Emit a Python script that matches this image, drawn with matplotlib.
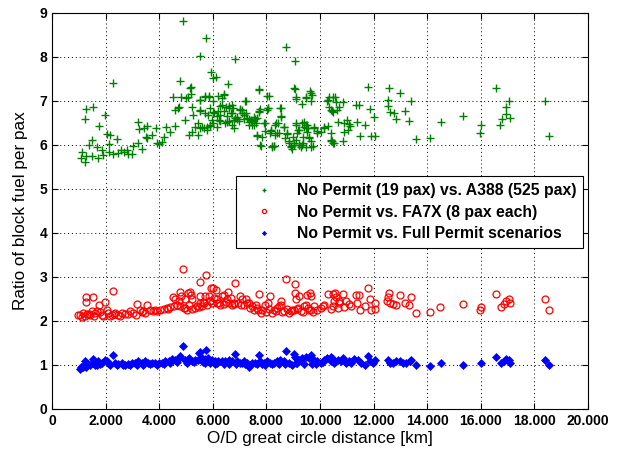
import matplotlib
matplotlib.use("Agg")
import matplotlib.pyplot as plt
from matplotlib.ticker import FuncFormatter

# ---------------- data ----------------
green_x = [4900, 5762, 5525, 6812, 8725, 9062, 2275, 4775, 5937, 6012, 6137, 6575, 5200, 7725,
           9062, 9637, 9687, 8112, 9087, 9475, 9312, 7225, 10300, 10562, 10350, 10637,
           1250, 1537, 1237, 1987, 1737, 1500, 1375, 1662, 1137, 1075, 1262, 1225, 1487, 1700,
           1887, 1875, 2112, 2050, 2175, 2412, 2112, 2287, 2462, 2575, 2687, 2787, 2850, 2975,
           3037, 3200, 3262, 3437, 3562, 3512, 3350, 3225, 3562, 3725, 3887, 3912, 3975, 4100,
           4162, 4262, 4412, 4512, 4600, 4687, 4600, 4737, 4812, 4975, 5012, 5087, 5162, 5200,
           5225, 5262, 5100, 5225, 5350, 5437, 5537, 5537, 5725, 5850, 5887, 5537, 5662, 5787,
           5912, 5975, 6037, 6162, 6225, 6287, 6350, 6412, 6475, 6537, 6600, 6687, 6762, 6787,
           6887, 7012, 7100, 7162, 7225, 7287, 7350, 7412, 7475, 7537, 7600, 7662, 7725, 7787,
           7850, 7937, 8037, 8062, 8137, 8187, 8225, 8287, 8350, 8412, 8475, 8537, 8562, 8662,
           8787, 8850, 8912, 8975, 9037, 9100, 9137, 9187, 9225, 9287, 9350, 9387, 9412, 9475,
           9512, 9562, 9600, 9662, 9725, 9787, 9887, 10037, 10162, 10287, 10412, 10512,
           5525, 5712, 5862, 6025, 6212, 6400, 6275, 6337, 6587, 6712, 5525, 5712, 5837, 6025,
           6187, 6400, 6525, 6712, 6837, 7025, 7087, 7212, 7150, 7337, 7462, 7587, 7650, 7525,
           7337, 5462, 5587, 5775, 5900, 6025, 6150, 6275, 6462, 6587, 6712, 6775, 6900, 6962,
           7712, 7775, 8025, 8062, 7712, 8525, 8562, 8337, 8437, 8650, 7900, 7962, 8187, 8337,
           7650, 7775, 8212, 8275, 8837, 8900, 8962, 9025, 9087, 9212, 9312, 9362, 9462, 9525,
           9587, 9650, 9462, 9337, 9212, 9087, 8775, 8712, 9650, 9650, 9462, 9087, 9025, 9775,
           9900, 10150, 10275, 10337, 10462, 10462,
           10500, 10600, 10412, 10475, 10700, 10850, 11325, 11450, 11850, 12012, 11787, 12575,
           12975, 13412, 12537, 12537, 12600, 12750, 13162, 12825, 13325, 10662, 10912, 11000,
           11075, 11125, 11037, 10912, 11375, 11662, 10412, 10412, 10475, 10875, 11500, 11912,
           12037, 13575, 14100, 14500, 15350, 16000, 15975, 16562, 17037, 16950, 16937, 16787,
           17075, 16725, 18387, 18562]
green_y = [8.81, 8.43, 8.02, 7.95, 8.23, 7.90, 7.40, 7.45, 7.65, 7.53, 7.54, 7.39, 7.32, 7.24,
           7.27, 7.22, 7.14, 7.11, 7.04, 7.06, 6.93, 7.01, 7.02, 7.09, 6.86, 6.80,
           6.81, 6.86, 6.59, 6.68, 6.43, 6.11, 5.99, 5.96, 5.85, 5.70, 5.76, 5.61, 5.76, 5.70,
           5.78, 5.88, 6.02, 6.24, 6.22, 6.13, 5.84, 5.79, 5.81, 5.89, 5.85, 5.89, 5.79, 5.80,
           5.98, 6.53, 6.36, 6.38, 6.43, 6.19, 5.92, 6.04, 6.15, 6.23, 6.38, 6.04, 6.02, 6.06,
           6.19, 6.42, 6.30, 7.09, 6.80, 6.84, 6.43, 6.86, 7.10, 6.57, 7.06, 7.10, 7.29, 7.16,
           6.87, 6.68, 6.23, 6.30, 6.42, 6.23, 6.80, 7.03, 7.09, 7.09, 6.84, 6.38, 6.38, 6.42,
           6.43, 6.57, 6.72, 6.65, 6.56, 6.68, 7.06, 7.14, 6.87, 6.53, 6.84, 6.72, 6.85, 6.57,
           6.63, 6.80, 6.80, 6.68, 6.72, 6.61, 6.53, 6.57, 6.46, 6.63, 6.49, 6.21, 6.76, 5.98,
           6.19, 6.49, 6.80, 6.84, 6.27, 6.34, 5.98, 5.98, 6.49, 6.27, 6.27, 6.84, 6.63, 6.42,
           6.25, 6.04, 5.98, 6.19, 6.04, 6.46, 6.27, 6.34, 6.00, 5.96, 6.04, 6.53, 6.42, 6.46,
           6.30, 6.38, 6.15, 5.96, 5.98, 6.42, 6.27, 6.30, 6.42, 6.43, 6.11, 6.04,
           7.02, 7.12, 7.12, 7.00, 7.12, 7.15, 6.88, 6.92, 6.88, 6.90, 6.77, 6.73, 6.69, 6.75,
           6.77, 6.77, 6.65, 6.73, 6.62, 6.81, 6.73, 7.00, 6.58, 6.58, 6.54, 6.58, 6.62, 6.46,
           6.46, 6.50, 6.42, 6.35, 6.46, 6.50, 6.42, 6.54, 6.50, 6.54, 6.46, 6.38, 6.58, 6.54,
           6.77, 6.81, 7.12, 6.85, 7.27, 6.85, 6.65, 6.46, 6.50, 6.42, 6.50, 6.31, 6.31, 6.23,
           6.23, 6.00, 5.96, 5.98, 6.08, 5.96, 5.92, 6.00, 6.50, 6.35, 6.50, 6.19, 6.38, 6.46,
           6.19, 6.08, 5.96, 6.00, 6.00, 6.12, 6.27, 6.15, 7.19, 7.00, 7.08, 7.08, 7.29, 6.38,
           6.31, 6.38, 7.00, 7.08, 6.77, 6.08,
           7.09, 6.97, 6.80, 6.76, 6.86, 6.97, 6.91, 6.91, 6.81, 6.63, 7.32, 7.29,
           7.19, 6.99, 7.03, 6.89, 6.76, 6.72, 6.78, 6.58, 6.55, 6.53, 6.51, 6.57,
           6.48, 6.43, 6.33, 6.30, 6.53, 6.46, 6.28, 6.08, 6.04, 6.08, 6.21, 6.21,
           6.21, 6.13, 6.15, 6.53, 6.66, 6.46, 6.28, 7.29, 6.99, 6.86, 6.71, 6.58,
           6.61, 6.46, 6.99, 6.21]

red_x = [4900, 5762, 5525, 6812, 8725, 9062, 2275, 6012, 6137, 5937, 6575, 1250, 1250, 1537,
         1987, 1737, 7725, 9062, 9637, 9662, 9512, 9100, 9225, 8125, 8062, 8537, 8562,
         10287, 10562, 10725, 4512, 4600, 4725, 4812, 4975, 5062, 5162, 5200, 5225, 4762,
         5537, 5725, 5850, 5887, 5537, 5662, 6037, 6162, 6350, 6412, 6537, 6687, 6787, 7012,
         7100, 7225, 7350, 7475, 7600, 7662, 7787, 7850, 7937, 8225, 8287, 8412, 8662, 8850,
         8912, 9037, 9162, 9287, 9412, 9537, 9662, 9787, 10037, 10162, 10475, 10662,
         975, 1062, 1162, 1225, 1312, 1412, 1475, 1600, 1662, 1850, 1912, 2037, 2100, 2225,
         2350, 2475, 2600, 2725, 2912, 3037, 3187, 3287, 3412, 3562, 3662, 3787, 3912, 4037,
         4162, 4287, 4412, 4537, 4662, 4787, 4912, 5037, 5225, 5350, 5475, 5600, 5787, 5975,
         6162, 6287, 6412, 6600, 6787, 7037, 7287,
         1125, 1375, 1550, 1775, 2150, 2300, 2550, 2825, 3125, 3350, 3475, 3850, 4325, 4975,
         5112, 5412, 5650, 5900, 6225, 6475, 6700, 6925, 7150, 7400, 7550, 7700, 7975, 8100,
         8350, 8475, 8600, 8775, 8950, 9125, 9350, 9475, 9600, 9725, 9900, 10100,
         10475, 10537, 10412, 10600, 10850, 10725, 10975, 10912, 11075, 11162, 11325, 11450,
         11375, 11500, 11662, 11787, 11875, 12037, 11912, 12037, 12537, 12575, 12500, 12600,
         12725, 12825, 12975, 13162, 13325, 13412, 13575, 14100, 14475, 15350, 16000, 15975,
         16562, 17037, 16950, 16875, 17075, 16750, 18412, 18562]
red_y = [3.19, 3.04, 2.89, 2.86, 2.96, 2.83, 2.68, 2.74, 2.70, 2.75, 2.65, 2.54, 2.43, 2.54,
         2.43, 2.36, 2.61, 2.64, 2.64, 2.56, 2.60, 2.50, 2.56, 2.56, 2.41, 2.45, 2.37,
         2.61, 2.64, 2.45, 2.54, 2.49, 2.45, 2.56, 2.50, 2.64, 2.65, 2.60, 2.49, 2.65,
         2.56, 2.56, 2.56, 2.45, 2.41, 2.41, 2.52, 2.49, 2.56, 2.60, 2.49, 2.52, 2.41, 2.56,
         2.49, 2.49, 2.41, 2.33, 2.37, 2.30, 2.18, 2.26, 2.37, 2.18, 2.26, 2.30, 2.22, 2.18,
         2.22, 2.26, 2.30, 2.22, 2.33, 2.30, 2.26, 2.33, 2.30, 2.37, 2.33, 2.30,
         2.13, 2.14, 2.18, 2.11, 2.17, 2.14, 2.22, 2.18, 2.22, 2.14, 2.11, 2.26, 2.18, 2.14,
         2.18, 2.14, 2.18, 2.16, 2.22, 2.18, 2.39, 2.26, 2.22, 2.37, 2.26, 2.22, 2.22, 2.26,
         2.27, 2.30, 2.32, 2.33, 2.37, 2.33, 2.30, 2.26, 2.27, 2.30, 2.32, 2.33, 2.37, 2.41,
         2.41, 2.37, 2.39, 2.41, 2.39, 2.37, 2.41,
         2.10, 2.16, 2.12, 2.20, 2.12, 2.16, 2.12, 2.16, 2.14, 2.20, 2.18, 2.24, 2.28, 2.30,
         2.36, 2.34, 2.44, 2.46, 2.40, 2.44, 2.36, 2.42, 2.36, 2.30, 2.24, 2.26, 2.20, 2.28,
         2.22, 2.34, 2.20, 2.28, 2.24, 2.28, 2.20, 2.36, 2.24, 2.20, 2.24, 2.34,
         2.62, 2.46, 2.27, 2.54, 2.62, 2.40, 2.46, 2.31, 2.38, 2.35, 2.58, 2.60,
         2.40, 2.25, 2.35, 2.75, 2.50, 2.42, 2.25, 2.27, 2.54, 2.63, 2.46, 2.42,
         2.38, 2.36, 2.59, 2.42, 2.36, 2.54, 2.18, 2.21, 2.32, 2.38, 2.32, 2.25,
         2.62, 2.50, 2.45, 2.38, 2.40, 2.32, 2.50, 2.25]

blue_x = [1037, 1100, 1162, 1225, 1287, 1412, 1512, 1537, 1662, 1725, 1850, 1975, 2037, 2100,
          2262, 2350, 2475, 2600, 2725, 2850, 2975, 3100, 3225, 3350, 3475, 3600, 3725, 3850,
          3975, 4100, 4225, 4350, 4475, 4600, 4725, 4787, 4900, 4975, 5100, 5225, 5350, 5475,
          5537, 5762, 5525, 6812, 8725, 9062,
          5462, 5587, 5712, 5837, 5962, 6087, 6212, 6337, 6462, 6587, 6712, 6900, 7025, 7150,
          7275, 7337, 7462, 7587, 7712, 7775, 7900, 8025, 8150, 8275, 8400, 8525, 8650, 8837,
          9025, 9087, 9212, 9337, 9462, 9587, 9650, 9775, 9900, 10025, 10150, 10275, 10400,
          10462, 5712, 6087, 6587, 7212, 7837, 8462, 9087, 9712,
          1175, 1350, 1600, 1800, 2175, 2412, 2662, 2912, 3162, 3412, 3662, 3912, 4162, 4412,
          4662, 5037, 5300, 5650, 5900, 6150, 6400, 6650, 6850, 7100, 7400, 7650, 7950, 8200,
          8450, 8700, 8950, 9150, 9400, 9850, 10100,
          10412, 10475, 10537, 10662, 10787, 10875, 10975, 11075, 11162, 11287, 11412, 11537,
          11662, 11787, 11875, 11975, 12037, 12537, 12600, 12725, 12850, 12975, 13100, 13225,
          13350, 13412, 13575, 14100, 14500, 15350, 16000, 16562, 16750, 16875, 16950, 17037,
          17100, 18412, 18562]
blue_y = [0.92, 0.95, 0.96, 1.10, 0.96, 1.00, 1.13, 1.04, 1.00, 1.08, 1.04, 1.11, 1.08, 1.04,
          1.23, 1.04, 1.02, 1.04, 1.00, 1.02, 1.04, 1.04, 1.10, 1.04, 1.08, 1.05, 1.04, 1.04,
          1.05, 1.05, 1.08, 1.10, 1.13, 1.11, 1.15, 1.20, 1.44, 1.11, 1.15, 1.08, 1.11, 1.28,
          1.13, 1.34, 1.29, 1.24, 1.32, 1.19,
          1.11, 1.15, 1.13, 1.15, 1.11, 1.10, 1.08, 1.10, 1.08, 1.11, 1.08, 1.08, 1.05, 1.08,
          1.05, 0.96, 1.04, 1.05, 1.23, 1.08, 1.04, 1.08, 1.04, 1.05, 1.10, 1.11, 1.08, 1.04,
          1.25, 1.15, 1.11, 1.15, 1.19, 1.15, 1.23, 1.11, 1.08, 1.04, 1.11, 1.15, 1.19,
          1.08, 1.04, 1.02, 1.02, 1.02, 1.02, 1.02, 1.04, 1.02,
          0.98, 1.02, 0.99, 1.02, 1.00, 0.99, 1.01, 0.99, 1.01, 1.00, 1.02, 1.00, 1.03, 1.04,
          1.06, 1.04, 1.06, 1.06, 1.04, 1.05, 1.03, 1.06, 1.02, 1.04, 1.01, 1.03, 1.00, 1.02,
          1.04, 1.03, 1.01, 1.04, 1.03, 1.02, 1.06,
          1.08, 1.13, 1.04, 1.11, 1.08, 1.17, 1.05, 1.10, 1.04, 1.13, 1.11, 1.04,
          1.00, 1.20, 1.08, 1.04, 1.11, 1.11, 1.05, 1.04, 1.08, 1.09, 1.05, 1.04,
          1.08, 1.11, 1.00, 0.98, 1.04, 1.00, 1.04, 1.19, 1.04, 1.08, 1.13, 1.11,
          1.05, 1.11, 1.00]

labels = ["No Permit (19 pax) vs. A388 (525 pax)",
          "No Permit vs. FA7X (8 pax each)",
          "No Permit vs. Full Permit scenarios"]
x_ticks = list(range(0, 20001, 2000))
y_ticks = list(range(0, 10))

# ---------------- figure ----------------
plt.rcParams['font.family'] = ['Liberation Sans', 'DejaVu Sans']
fig = plt.figure(figsize=(6.22, 4.53), dpi=100)
ax = fig.add_axes([52 / 622, 1 - 409 / 453, 536 / 622, 396 / 453])

ax.plot(green_x, green_y, linestyle='none', marker='+', ms=6, mew=1.0,
        color='#008000', label=labels[0])
ax.plot(red_x, red_y, linestyle='none', marker='o', ms=5, mew=0.9,
        mfc='none', mec='red', label=labels[1])
ax.plot(blue_x, blue_y, linestyle='none', marker='D', ms=3.6, mew=0.5,
        color='blue', label=labels[2])

ax.set_xlim(0, 20000)
ax.set_ylim(0, 9)
ax.set_xticks(x_ticks)
ax.set_yticks(y_ticks)
ax.xaxis.set_major_formatter(FuncFormatter(lambda v, p: f"{v:,.0f}".replace(",", ".")))
ax.tick_params(direction='in', length=4, width=0.8, labelsize=10, top=True, right=True)
for lab in ax.get_xticklabels() + ax.get_yticklabels():
    lab.set_fontweight('bold')
ax.grid(True, color='black', linestyle=(0, (1, 3)), linewidth=0.7)
for s in ax.spines.values():
    s.set_linewidth(0.8)

ax.set_xlabel("O/D great circle distance [km]", fontsize=12.3, labelpad=2)
ax.set_ylabel("Ratio of block fuel per pax", fontsize=12.3, labelpad=8)

leg = ax.legend(loc='upper right', bbox_to_anchor=(0.991, 0.588), borderaxespad=0,
                fancybox=False, edgecolor='black', framealpha=1, markerscale=0.6,
                prop={'weight': 'bold', 'size': 11.3}, handlelength=2.6,
                borderpad=0.45, labelspacing=0.42, handletextpad=0.8)
leg.get_frame().set_linewidth(0.8)

fig.savefig("out.png", dpi=100)
